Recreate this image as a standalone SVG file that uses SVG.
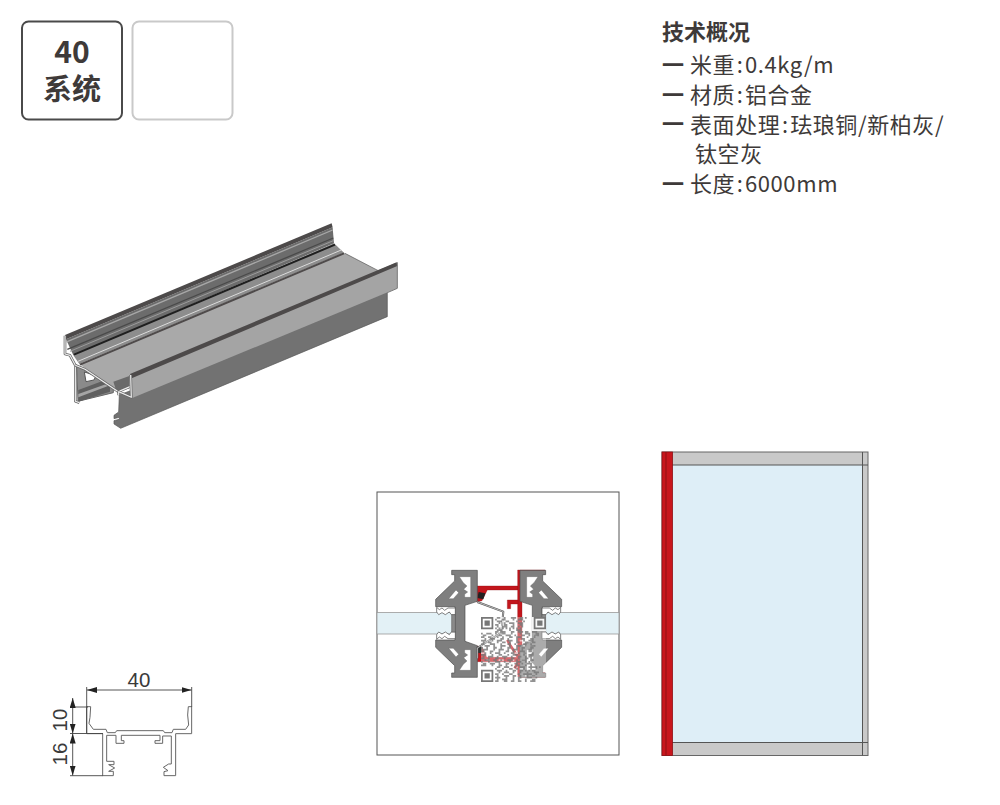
<svg xmlns="http://www.w3.org/2000/svg" width="1000" height="805" viewBox="0 0 1000 805">
<style>
text{font-family:"Noto Sans CJK SC","Noto Sans",sans-serif;fill:#3e3a39}
.spec{font-size:22px;letter-spacing:.6px}
.bar{font-size:22px;font-weight:700;letter-spacing:0}
.dim{font-family:"Liberation Sans",Arial,sans-serif;font-size:20.500px;fill:#3a3a3a}
.cut{fill:none;stroke:#666;stroke-width:8;stroke-linejoin:round}
.cutw{fill:none;stroke:#eee;stroke-width:3.5;stroke-linejoin:round}
.alu{fill:#7f7f7f;stroke:#4d4d4d;stroke-width:2}
.red{fill:#c3161c;stroke:#8f1015;stroke-width:1}
.glass{fill:#e3f1f6;stroke:#999;stroke-width:.8}
.prof{fill:#fff;stroke:#666;stroke-width:3;stroke-linejoin:round}
.ext{stroke:#444;stroke-width:.9;fill:none}
.cav{fill:#fff;stroke:#555;stroke-width:1}
.gask{fill:#fff;stroke:#444;stroke-width:2}
</style>
<defs>
<marker id="ah" viewBox="0 0 10 6" refX="10" refY="3" markerWidth="10" markerHeight="6" markerUnits="userSpaceOnUse" orient="auto-start-reverse"><path d="M0 0L10 3L0 6z" fill="#222"/></marker>
<g id="mullion">
<path class="alu" d="M95 31H172V124L135 136V244L172 257V352H95V339H104V317L47 262V240H105V140H47V118L104 63V44H95Z"/>
<path class="cav" d="M118 50H152V112H134V103L143 96L131 88L141 78L130 68Z"/>
<path class="cav" d="M118 331H152V269H134V278L143 285L131 293L141 303L130 313Z"/>
<path class="cav" d="M108 90L116 98L100 116H86Z"/>
<path class="cav" d="M108 291L116 283L100 265H86Z"/>
<path class="gask" d="M50 142L58 149L66 144L74 151L84 144H106V164H94L88 156L76 164L66 158L56 164L50 156Z"/>
<path class="gask" d="M50 238L58 231L66 236L74 229L84 236H106V216H94L88 224L76 216L66 222L56 216L50 224Z"/>
<path fill="#8a8a8a" stroke="#444" d="M95 164H106V216H95Z"/>
</g>
</defs>

<g id="badge-40">
<rect x="22" y="21.500" width="100" height="98" rx="6.500" fill="#fff" stroke="#4a4a4a" stroke-width="2"/>
<text text-anchor="middle" font-weight="700"><tspan x="72" y="63" font-size="30">40</tspan><tspan x="72" y="100" font-size="29">系统</tspan></text>
</g>
<g id="badge-empty"><rect x="132.500" y="21.500" width="100" height="98" rx="6.500" fill="#fff" stroke="#c9c9c9" stroke-width="2"/></g>

<g id="specs">
<text x="662" y="40" font-size="22" font-weight="700">技术概况</text>
<text class="spec"><tspan class="bar" x="662" y="72.500">一</tspan><tspan x="690" y="73">米重</tspan><tspan dx="1.500">:</tspan><tspan dx="1.500">0.4kg/m</tspan></text>
<text class="spec"><tspan class="bar" x="662" y="102.500">一</tspan><tspan x="690" y="102.500">材质</tspan><tspan dx="1.500">:</tspan><tspan dx="1.500">铝合金</tspan></text>
<text class="spec"><tspan class="bar" x="662" y="132">一</tspan><tspan x="690" y="132.500">表面处理</tspan><tspan dx="1.500">:</tspan><tspan dx="1.500">珐琅铜/新柏灰/</tspan></text>
<text class="spec" x="695" y="162">钛空灰</text>
<text class="spec"><tspan class="bar" x="662" y="191.500">一</tspan><tspan x="690" y="192">长度</tspan><tspan dx="1.500">:</tspan><tspan dx="1.500">6000mm</tspan></text>
</g>

<g id="profile-3d" transform="translate(50 210) scale(.3333)">
<path fill="#8a8a8a" stroke="#666" stroke-width="3" d="M80 468L190 525V548L84 574Z"/>
<path fill="#5f5f5f" d="M85 540L180 505V545L85 575Z"/>
<path fill="#a5a5a5" d="M85 552L180 518V526L85 562Z"/>
<path fill="#fff" stroke="#555" stroke-width="3" d="M103 486L108 515L132 510L138 497Z"/>
<path fill="#727272" stroke="#555" stroke-width="2" d="M208 555L1012 245V320L212 655L192 642V632L208 628V622L192 626V616L206 606Z"/>
<path fill="#a4a4a4" d="M240 495L1042 157V235L245 565Z"/>
<path fill="#a9a9a9" d="M88 462L882 128L985 182L240 495L240 530L205 545Z"/>
<path fill="#6c6c6c" d="M48 388L848 52L852 100L70 436Z"/>
<path fill="#8d8d8d" d="M70 436L852 100L882 128L88 462Z"/>
<path fill="none" stroke="#a8a8a8" stroke-width="4" d="M50 396L848 60"/>
<path fill="none" stroke="#4a4a4a" stroke-width="4" d="M52 418L850 84"/>
<path fill="none" stroke="#9c9c9c" stroke-width="3" d="M60 424L850 92"/>
<path fill="none" stroke="#1f1f1f" stroke-width="6" d="M72 434L855 104"/>
<path fill="none" stroke="#4f4b4b" stroke-width="6" d="M90 464L882 130"/>
<path fill="none" stroke="#dcdcdc" stroke-width="3" d="M84 454L874 120"/>
<path fill="#4d4a4a" d="M45 375L845 40L848 52L48 388Z"/>
<path fill="#4d4a4a" d="M240 492L1040 157L1042 168L245 505Z"/>
<path fill="#6a6a6a" d="M190 515L238 498V535L200 545Z"/>
<path class="cut" d="M45 377V432L60 436L76 466V574L88 578"/>
<path class="cutw" d="M45 377V432L60 436L76 466V574L88 578"/>
<path class="cut" d="M76 466L105 478L205 545L240 530"/>
<path class="cutw" d="M76 466L105 478L205 545L240 530"/>
<path class="cut" d="M242 495L244 562L206 545V556"/>
<path class="cutw" d="M242 495L244 562L206 545V556"/>
<path fill="none" stroke="#777" stroke-width="3" d="M1042 157V235L1012 248"/>
<path fill="none" stroke="#555" stroke-width="2" d="M885 130L985 182"/>
</g>

<g id="section">
<rect x="377" y="492" width="242" height="263" fill="#fff" stroke="#555" stroke-width="1"/>
<rect class="glass" x="377" y="612.500" width="75" height="21.500"/>
<rect class="glass" x="545.300" y="612.500" width="73.700" height="21.500"/>
<g transform="translate(420 560) scale(.3333)">
<path class="red" d="M168 78H294V90H202L186 122L170 126Z"/>
<path class="red" d="M293 30H375V42H318L306 50V350H293Z"/>
<path class="red" d="M262 120H294V132H272V146H262Z"/>
<path class="red" d="M300 338H375V352H300Z"/>
<path class="red" d="M172 258L186 262L200 292H294V305H172Z"/>
<path fill="none" stroke="#c3161c" stroke-width="8" d="M262 240L270 255L298 296M300 296L284 325"/>
<path fill="#222" d="M176 96L196 100L190 118L172 114Z"/>
<path fill="#333" d="M172 258L188 262L184 280L172 278Z"/>
<use href="#mullion"/>
<use href="#mullion" transform="matrix(-1 0 0 1 472 0)"/>
<path fill="none" stroke="#555" stroke-width="6" stroke-linejoin="round" d="M172 126L250 155L244 218L172 264V295"/>
<path fill="none" stroke="#ccc" stroke-width="2.500" stroke-linejoin="round" d="M172 126L250 155L244 218L172 264V295"/>
</g>
<g id="qr" transform="translate(481 617) scale(1.757)">
<rect width="37" height="37" fill="#fff" opacity=".35"/>
<path fill="none" stroke="#fff" stroke-width="1" opacity=".6" d="M11 .5h2m3 0h1m6 0h2M8 2.500h1m3 0h2m6 0h1M9 5.500h3m5 0h2M0 10.500h1m3 0h2m5 0h2m6 0h1m5 0h2m3 0h2M1 13.500h2m7 0h2m4 0h1m5 0h2M4 16.500h3m4 0h2m6 0h1m4 0h2m2 0h2M0 20.500h2m3 0h1m6 0h2m5 0h2m3 0h3M3 24.500h2m5 0h3m5 0h1m4 0h2m3 0h1M9 29.500h3m5 0h1m4 0h2m3 0h2M12 33.500h2m5 0h2m4 0h1m3 0h2"/>
<path fill="none" stroke="#777" stroke-width="1" opacity=".8" d="M9 .5h2m2 0h1m3 0h3m2 0h2m1 0h1M8 1.500h1m3 0h2m4 0h1m2 0h3M9 2.500h3m2 0h2m4 0h1m3 0h1M10 3.500h1m2 0h1m2 0h3m2 0h3M8 4.500h2m3 0h2m3 0h1m3 0h2M9 5.500h1m2 0h3m2 0h2m2 0h1m1 0h1M8 6.500h1m1 0h1m1 0h1m1 0h1m1 0h1m1 0h1m1 0h1m1 0h1M9 7.500h3m4 0h1m3 0h3M8 8.500h2m1 0h3m3 0h2m2 0h3m1 0h2m2 0h3M0 9.500h1m2 0h3m2 0h1m3 0h2m3 0h1m4 0h1m2 0h3m3 0h2M1 10.500h2m3 0h1m3 0h2m2 0h3m2 0h1m3 0h2m2 0h1m2 0h3M0 11.500h2m2 0h2m3 0h1m2 0h1m3 0h2m2 0h3m3 0h1m3 0h1M2 12.500h1m2 0h3m3 0h2m2 0h1m4 0h1m2 0h2m3 0h2M0 13.500h3m3 0h1m2 0h3m3 0h3m2 0h1m3 0h1m2 0h3M1 14.500h1m2 0h2m3 0h1m2 0h2m2 0h1m3 0h2m3 0h2m2 0h2M0 15.500h2m3 0h3m3 0h1m3 0h2m2 0h1m4 0h2m2 0h1M2 16.500h3m2 0h1m3 0h3m2 0h1m3 0h3m2 0h1m2 0h3M0 17.500h1m2 0h1m3 0h2m2 0h1m3 0h2m3 0h1m2 0h2m3 0h2M1 18.500h3m3 0h1m2 0h3m2 0h1m2 0h3m2 0h1m3 0h2M0 19.500h2m3 0h2m3 0h1m3 0h2m2 0h1m3 0h3m2 0h2M2 20.500h1m2 0h1m2 0h3m2 0h1m3 0h2m2 0h1m2 0h2m3 0h1M0 21.500h3m3 0h1m3 0h2m3 0h1m2 0h3m3 0h1m2 0h3M1 22.500h1m2 0h3m2 0h1m2 0h3m2 0h1m3 0h2m2 0h1m1 0h2M0 23.500h2m2 0h1m3 0h2m3 0h1m3 0h2m2 0h1m3 0h2m1 0h1M2 24.500h3m2 0h2m2 0h1m3 0h3m2 0h1m2 0h3m2 0h2M0 25.500h1m3 0h1m3 0h3m2 0h1m2 0h1m3 0h3m2 0h1m1 0h1M1 26.500h2m2 0h3m2 0h1m3 0h2m3 0h2m2 0h1m2 0h3M0 27.500h3m3 0h1m3 0h2m2 0h1m2 0h1m2 0h2m3 0h1m2 0h1M9 28.500h2m2 0h3m3 0h1m2 0h3m2 0h5m1 0h1M8 29.500h1m3 0h1m3 0h2m2 0h1m3 0h1m3 0h1m2 0h1M9 30.500h3m2 0h1m3 0h2m2 0h2m1 0h1m1 0h1m1 0h2M10 31.500h1m2 0h3m2 0h1m3 0h1m3 0h1m3 0h3M8 32.500h2m2 0h1m3 0h2m3 0h1m2 0h5m2 0h1M9 33.500h1m3 0h3m2 0h2m2 0h1m3 0h1m2 0h2M8 34.500h3m3 0h1m3 0h1m2 0h2m3 0h3m2 0h1M9 35.500h1m2 0h3m3 0h1m2 0h1m3 0h1m3 0h2M8 36.500h2m3 0h2m2 0h2m2 0h2m2 0h1m2 0h3"/>
<path fill="#fff" opacity=".9" d="M0 0h8v8h-8zM29 0h8v8h-8zM0 29h8v8h-8z"/>
<path fill-rule="evenodd" fill="#777" d="M0 0h7v7h-7zM1 1v5h5v-5zM2 2h3v3h-3zM30 0h7v7h-7zM31 1v5h5v-5zM32 2h3v3h-3zM0 30h7v7h-7zM1 31v5h5v-5zM2 32h3v3h-3z"/>
</g>
</g>

<g id="elevation">
<rect x="662" y="452" width="206" height="303.500" fill="#c9c9c9" stroke="#666" stroke-width="1"/>
<rect x="672" y="465" width="190.500" height="277.500" fill="#deeef7"/>
<path fill="none" stroke="#555" stroke-width="1" d="M666 465H868M666 742.500H868M862.500 452V755.500"/>
<rect x="662" y="452" width="10.500" height="303.500" fill="#c8161d" stroke="#8f1015" stroke-width=".8"/>
<path fill="none" stroke="#8f1015" stroke-width="1" d="M666 452V755.500"/>
</g>

<g id="dimensioned-profile">
<g transform="translate(40 660) scale(.3333)">
<path class="prof" d="M140 140H152L150 172L147 190L160 208H198L202 218H226L230 212H370L374 218H396L400 208H437L446 195L443 165L445 140H455V221H407V347H372V335L384 332L370 322L386 312H394V228H368V250H345V242H360V226H244V242H252V250H228V226H200V304H222V314H206L224 324L206 334H220V347H188V221H140Z"/>
</g>
<path class="ext" d="M86.700 687V733M191.700 687V707M70 707H88M70 733.500H103M70 775.700H103"/>
<path class="ext" marker-start="url(#ah)" marker-end="url(#ah)" d="M87 690H191.500"/>
<path class="ext" marker-start="url(#ah)" marker-end="url(#ah)" d="M72.700 698V733.500"/>
<path class="ext" marker-start="url(#ah)" marker-end="url(#ah)" d="M72.700 733.500V775.500"/>
<text class="dim" x="139" y="686.500" text-anchor="middle">40</text>
<text class="dim" transform="translate(66.500 720) rotate(-90)" text-anchor="middle">10</text>
<text class="dim" transform="translate(66.500 754) rotate(-90)" text-anchor="middle">16</text>
</g>
</svg>
